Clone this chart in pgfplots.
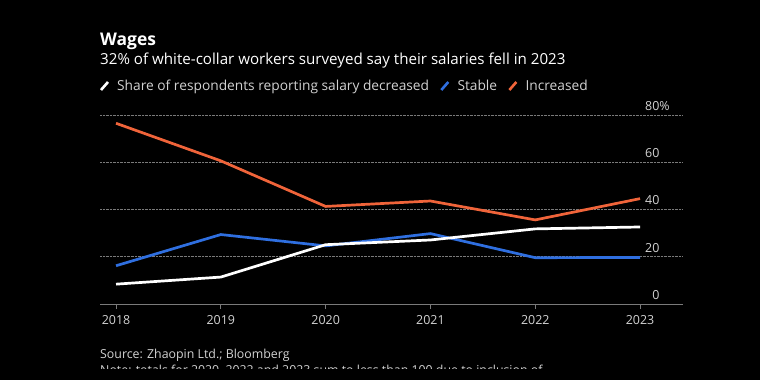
\documentclass[border=0pt]{standalone}
\usepackage{pgfplots}
\pgfplotsset{compat=1.18}
\usepackage{fontspec}
\setmainfont{Open Sans}
\definecolor{borange}{HTML}{F0643A}
\definecolor{bblue}{HTML}{2F6FE0}
\definecolor{labgray}{HTML}{D2D2D2}
\definecolor{gridgray}{HTML}{7A7A7A}
\begin{document}
\begin{tikzpicture}
\begin{scope}[x=1bp,y=1bp]
\fill[black] (0,0) rectangle (760,380);
\path[use as bounding box] (0,0) rectangle (760,380);
% titles
\node[anchor=base west, inner sep=0, text=white, font=\fontsize{17.5}{20}\selectfont\bfseries] at (100,335) {Wages};
\node[anchor=base west, inner sep=0, text=white, font=\fontsize{15.2}{17}\selectfont] at (100,316) {32\% of white-collar workers surveyed say their salaries fell in 2023};
% legend
\draw[white, line width=2.6bp] (101,290) -- (108,298);
\node[anchor=base west, inner sep=0, text=labgray, font=\fontsize{13.8}{16}\selectfont] (la) at (117,290) {Share of respondents reporting salary decreased};
\draw[bblue, line width=2.6bp] ([xshift=12bp,yshift=0bp]la.base east) -- ([xshift=19bp,yshift=8bp]la.base east);
\node[anchor=base west, inner sep=0, text=labgray, font=\fontsize{13.8}{16}\selectfont] (lb) at ([xshift=28bp]la.base east) {Stable};
\draw[borange, line width=2.6bp] ([xshift=12bp,yshift=0bp]lb.base east) -- ([xshift=19bp,yshift=8bp]lb.base east);
\node[anchor=base west, inner sep=0, text=labgray, font=\fontsize{13.8}{16}\selectfont] at ([xshift=28bp]lb.base east) {Increased};
% source & note
\node[anchor=base west, inner sep=0, text=labgray, font=\fontsize{12.4}{14}\selectfont] at (100,22) {Source: Zhaopin Ltd.; Bloomberg};
\begin{scope}
\clip (0,12) rectangle (760,380);
\node[anchor=base west, inner sep=0, text=labgray, font=\fontsize{12.4}{14}\selectfont] at (100,6) {Note: totals for 2020, 2022 and 2023 sum to less than 100 due to inclusion of};
\end{scope}
\end{scope}
\begin{axis}[
  at={(100bp,76bp)}, anchor=south west, scale only axis,
  width=583bp, height=189bp,
  xmin=2017.847, xmax=2023.41, ymin=0, ymax=80,
  clip=false,
  axis x line*=bottom,
  x axis line style={-, draw=gridgray, line width=1bp},
  y axis line style={draw=none},
  xtick={2018,2019,2020,2021,2022,2023},
  xticklabels={2018,2019,2020,2021,2022,2023},
  x tick style={draw=gridgray, line width=0.8bp},
  tick align=outside, major tick length=5bp,
  xtick pos=bottom,
  ytick={0,20,40,60,80},
  yticklabels={0,20,40,60,80\rlap{\%}},
  ytick pos=right,
  yticklabel pos=right,
  y tick style={draw=none},
  yticklabel style={anchor=south east, xshift=-25bp, yshift=1bp},
  ticklabel style={text=labgray, font=\fontsize{12.5}{15}\selectfont},
  xticklabel style={yshift=-3bp},
  /pgf/number format/assume math mode=true,
  /pgf/number format/1000 sep={},
  ymajorgrids,
  grid style={densely dotted, draw=gridgray, line width=0.8bp},
]
\addplot[bblue, line width=2.7bp] coordinates {(2018,16.2) (2019,29.4) (2020,24.6) (2021,29.8) (2022,19.6) (2023,19.7)};
\addplot[borange, line width=2.7bp] coordinates {(2018,76.5) (2019,60.6) (2020,41.3) (2021,43.6) (2022,35.6) (2023,44.6)};
\addplot[white, line width=2.7bp] coordinates {(2018,8.4) (2019,11.4) (2020,25.1) (2021,27.1) (2022,31.8) (2023,32.6)};
\end{axis}
\end{tikzpicture}
\end{document}
